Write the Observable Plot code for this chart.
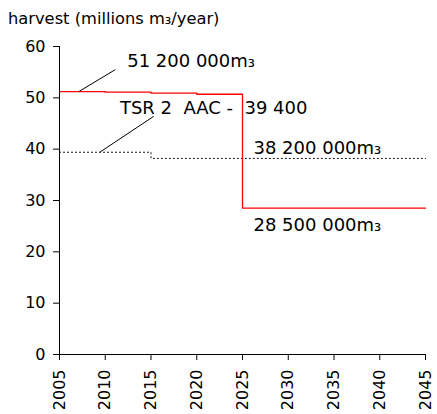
<!DOCTYPE html>
<html>
<head>
<meta charset="utf-8">
<script src="https://cdn.jsdelivr.net/npm/d3@7"></script>
<script src="https://cdn.jsdelivr.net/npm/@observablehq/plot@0.6"></script>
<style>
  body { margin: 0; background: #fff; font-family: "DejaVu Sans", sans-serif; }
  #title { height: 30px; line-height: 38px; padding-left: 8px; font-size: 16.3px; color: #000; white-space: nowrap; }
  #chart svg text { white-space: pre; }
</style>
</head>
<body>
<div id="title">harvest (millions m₃/year)</div>
<div id="chart"></div>
<script>
// Projected harvest (millions of m³ per year), stepped by period
const harvestYears = [2005, 2010, 2015, 2020, 2025, 2045];
const harvestValues = [51.2, 51.1, 50.9, 50.7, 28.5, 28.5];

// TSR 2 allowable annual cut (millions of m³ per year)
const aacYears = [2005, 2015, 2045];
const aacValues = [39.4, 38.2, 38.2];

// Axis ticks
const xTicks = [2005, 2010, 2015, 2020, 2025, 2030, 2035, 2040, 2045];
const yTicks = [0, 10, 20, 30, 40, 50, 60];

// Annotation text and where it sits (year, value)
const noteText = ["51 200 000m₃", "TSR 2  AAC -  39 400", "38 200 000m₃", "28 500 000m₃"];
const noteYear = [2012.4, 2011.6, 2026.2, 2026.2];
const noteValue = [57.1, 47.9, 40.1, 25.1];

// Leader lines from a series to its note
const leaderFromYear = [2007.1, 2009.4];
const leaderFromValue = [51.2, 39.4];
const leaderToYear = [2011.1, 2015.3];
const leaderToValue = [55.5, 46.4];

const harvest = harvestYears.map((x, i) => ({x, y: harvestValues[i]}));
const aac = aacYears.map((x, i) => ({x, y: aacValues[i]}));
const notes = noteText.map((t, i) => ({t, x: noteYear[i], y: noteValue[i]}));
const leaders = leaderFromYear.map((x1, i) => ({x1, y1: leaderFromValue[i], x2: leaderToYear[i], y2: leaderToValue[i]}));

const chart = Plot.plot({
  width: 437,
  height: 384,
  marginLeft: 59,
  marginRight: 12,
  marginTop: 16,
  marginBottom: 60,
  style: {fontFamily: "DejaVu Sans, sans-serif", fontSize: "16px", color: "#000", background: "#fff"},
  x: {domain: [xTicks[0], xTicks[xTicks.length - 1]]},
  y: {domain: [yTicks[0], yTicks[yTicks.length - 1]]},
  marks: [
    Plot.line(aac, {x: "x", y: "y", curve: "step-after", stroke: "#000", strokeWidth: 1, strokeDasharray: "1,3"}),
    Plot.line(harvest, {x: "x", y: "y", curve: "step-after", stroke: "#ff0000", strokeWidth: 1.3}),
    Plot.link(leaders, {x1: "x1", y1: "y1", x2: "x2", y2: "y2", stroke: "#000", strokeWidth: 1}),
    Plot.text(notes, {x: "x", y: "y", text: "t", textAnchor: "start", lineAnchor: "middle", fontSize: 18, fill: "#000"}),
    Plot.ruleX([xTicks[0]], {y1: yTicks[0], y2: yTicks[yTicks.length - 1], stroke: "#000"}),
    Plot.ruleY([yTicks[0]], {x1: xTicks[0], x2: xTicks[xTicks.length - 1], stroke: "#000"}),
    Plot.axisY({ticks: yTicks, tickSize: 6, tickPadding: 8, label: null, stroke: "#000", strokeOpacity: 1}),
    Plot.axisX({ticks: xTicks, tickSize: 6, tickPadding: 9, tickRotate: -90, tickFormat: d => String(d), label: null, stroke: "#000", strokeOpacity: 1})
  ]
});
document.getElementById("chart").appendChild(chart);
</script>
</body>
</html>
